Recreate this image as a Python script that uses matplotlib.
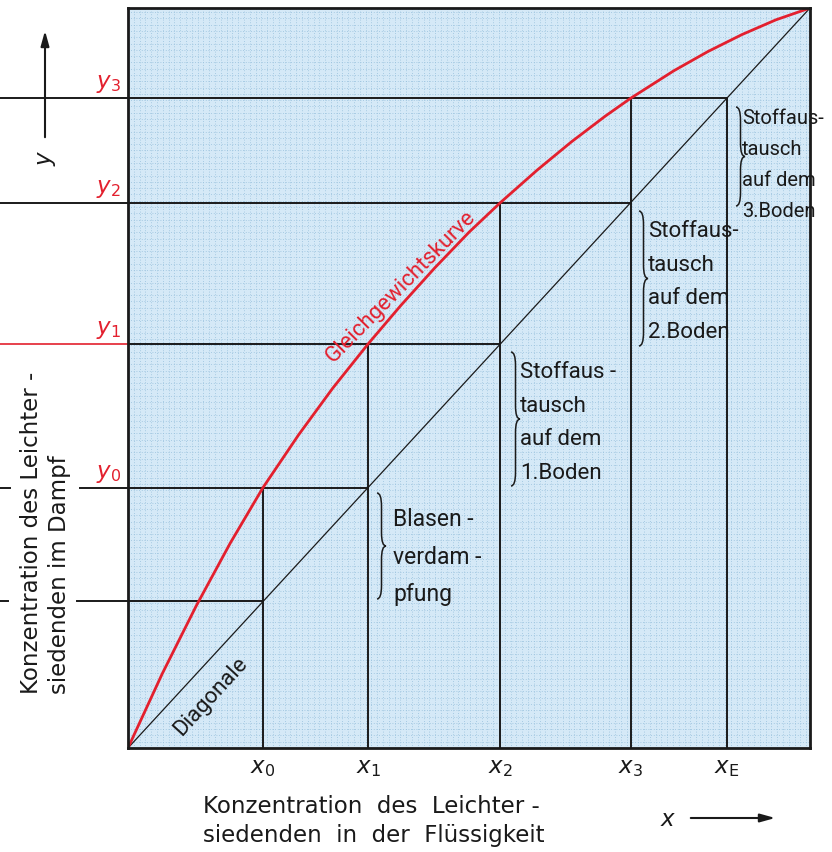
import numpy as np
import matplotlib
matplotlib.use("Agg")
import matplotlib.pyplot as plt
from matplotlib.path import Path
from matplotlib.patches import PathPatch

# ---------------- data ----------------
curve_x = [0.0, 0.05, 0.10, 0.15, 0.198, 0.25, 0.30, 0.352, 0.40, 0.45, 0.50, 0.546,
           0.60, 0.65, 0.70, 0.737, 0.80, 0.85, 0.90, 0.95, 1.0]
curve_y = [0.0, 0.100, 0.192, 0.277, 0.352, 0.423, 0.486, 0.546, 0.598, 0.649, 0.697, 0.737,
           0.781, 0.819, 0.854, 0.878, 0.915, 0.941, 0.964, 0.984, 1.0]

step_x = [0.198, 0.352, 0.546, 0.737, 0.878]          # x0, x1, x2, x3, xE
step_y = [0.352, 0.546, 0.737, 0.878]                 # y0, y1, y2, y3
x_labels = [r"$x_0$", r"$x_1$", r"$x_2$", r"$x_3$", r"$x_\mathrm{E}$"]
y_labels = [r"$y_0$", r"$y_1$", r"$y_2$", r"$y_3$"]

stage_texts = ["Blasen -\nverdam -\npfung",
               "Stoffaus -\ntausch\nauf dem\n1.Boden",
               "Stoffaus-\ntausch\nauf dem\n2.Boden",
               "Stoffaus-\ntausch\nauf dem\n3.Boden"]

xlabel_text = "Konzentration  des  Leichter -\nsiedenden  in  der  Flüssigkeit"
ylabel_text = "Konzentration des Leichter -\nsiedenden im Dampf"

# ---------------- layout ----------------
W, H = 832, 852
L, R, T, B = 128, 810, 8, 748


def X(px):
    return (px - L) / (R - L)


def Y(py):
    return (B - py) / (B - T)


RED = "#e3202e"
BLK = "#1a1a1a"
FONT = ["Roboto", "DejaVu Sans"]
TFONT = ["DejaVu Sans"]

fig = plt.figure(figsize=(W / 100, H / 100), dpi=100)
fig.patch.set_facecolor("white")
ax = fig.add_axes([L / W, 1 - B / H, (R - L) / W, (B - T) / H])
ax.set_xlim(0, 1)
ax.set_ylim(0, 1)
ax.set_facecolor("#d5e9f7")
for s in ax.spines.values():
    s.set_linewidth(2.0)
    s.set_color(BLK)
    s.set_zorder(6)
ax.set_xticks([])
ax.set_yticks([])

# dotted background grid
gsp = np.arange(0.0, 1.0001, 0.0085)
ax.vlines(gsp, 0, 1, colors="#97c0dc", linewidth=0.6, linestyles=(0, (1, 2.2)), zorder=0.5)
ax.hlines(gsp, 0, 1, colors="#97c0dc", linewidth=0.6, linestyles=(0, (1, 2.2)), zorder=0.5)

# diagonal
ax.plot([0, 1], [0, 1], color=BLK, lw=0.9, zorder=3)
# equilibrium curve
ax.plot(curve_x, curve_y, color=RED, lw=2.0, zorder=4, solid_capstyle="round", solid_joinstyle="round")

lw_step = 1.4
# vertical lines from bottom up to curve (or diagonal for xE)
for i, xv in enumerate(step_x):
    top = step_y[i] if i < len(step_y) else step_y[-1]
    ax.plot([xv, xv], [0, top], color=BLK, lw=lw_step, zorder=3)

# horizontal lines
ax.plot([X(0), step_x[4]], [step_y[3], step_y[3]], color=BLK, lw=lw_step, clip_on=False, zorder=3)
ax.plot([X(0), step_x[3]], [step_y[2], step_y[2]], color=BLK, lw=lw_step, clip_on=False, zorder=3)
ax.plot([X(0), 0], [step_y[1], step_y[1]], color=RED, lw=1.2, clip_on=False, zorder=3)
ax.plot([0, step_x[2]], [step_y[1], step_y[1]], color=BLK, lw=lw_step, zorder=3)
ax.plot([X(80), step_x[1]], [step_y[0], step_y[0]], color=BLK, lw=lw_step, clip_on=False, zorder=3)
ax.plot([X(0), X(10)], [step_y[0], step_y[0]], color=BLK, lw=lw_step, clip_on=False, zorder=3)
ax.plot([X(77), step_x[0]], [step_x[0], step_x[0]], color=BLK, lw=lw_step, clip_on=False, zorder=3)
ax.plot([X(0), X(8)], [step_x[0], step_x[0]], color=BLK, lw=lw_step, clip_on=False, zorder=3)

# tick-like labels
for xv, lab in zip(step_x, x_labels):
    ax.text(xv, Y(756), lab, ha="center", va="top", fontsize=16.5, color=BLK, clip_on=False)
for yv, lab in zip(step_y, y_labels):
    ax.text(X(121), yv + 0.004, lab, ha="right", va="bottom", fontsize=16.5, color=RED, clip_on=False)


# curly braces
def brace(x0, ytop, ybot, w):
    ym = 0.5 * (ytop + ybot)
    c = 0.018
    verts = [(x0, ytop),
             (x0 + w * 0.5, ytop), (x0 + w * 0.5, ytop - c),
             (x0 + w * 0.5, ym + c),
             (x0 + w * 0.5, ym), (x0 + w, ym),
             (x0 + w * 0.5, ym), (x0 + w * 0.5, ym - c),
             (x0 + w * 0.5, ybot + c),
             (x0 + w * 0.5, ybot), (x0, ybot)]
    codes = [Path.MOVETO,
             Path.CURVE3, Path.CURVE3,
             Path.LINETO,
             Path.CURVE3, Path.CURVE3,
             Path.CURVE3, Path.CURVE3,
             Path.LINETO,
             Path.CURVE3, Path.CURVE3]
    ax.add_patch(PathPatch(Path(verts, codes), fill=False, lw=1.1, color=BLK, zorder=5, clip_on=False))


brace_specs = [  # (brace left px, top py, bottom py, text x px, text center py, fontsize, linespacing)
    (377, 493, 599, 393, 557, 16.5, 1.78),
    (511, 352, 486, 520, 423, 16.0, 1.80),
    (639, 211, 346, 648, 282, 16.0, 1.79),
    (736, 107, 206, 742, 165, 14.5, 1.78),
]
for (bx, bt, bb, tx, tc, fs, lsp), txt in zip(brace_specs, stage_texts):
    brace(X(bx), Y(bt), Y(bb), X(bx + 9) - X(bx))
    ax.text(X(tx), Y(tc), txt, ha="left", va="center", fontsize=fs, linespacing=lsp,
            color=BLK, family=FONT, zorder=2, clip_on=False)

# curve / diagonal labels
ax.text(X(401), Y(287), "Gleichgewichtskurve", color=RED, fontsize=16, rotation=45.5,
        rotation_mode="anchor", ha="center", va="center", family=FONT, zorder=5)
ax.text(X(211), Y(697), "Diagonale", color=BLK, fontsize=16, rotation=47.5,
        rotation_mode="anchor", ha="center", va="center", family=FONT, zorder=5)

# axis arrows
ax.annotate("", xy=(X(45), Y(28)), xytext=(X(45), Y(140)), annotation_clip=False,
            arrowprops=dict(arrowstyle="-|>,head_length=0.9,head_width=0.25", color=BLK, lw=1.5))
ax.text(X(47), Y(158), r"$y$", rotation=90, ha="center", va="center", fontsize=16.5, color=BLK, clip_on=False)
ax.annotate("", xy=(X(778), Y(818)), xytext=(X(688), Y(818)), annotation_clip=False,
            arrowprops=dict(arrowstyle="-|>,head_length=0.9,head_width=0.25", color=BLK, lw=1.5))
ax.text(X(668), Y(820), r"$x$", ha="center", va="center", fontsize=16.5, color=BLK, clip_on=False)

# axis titles
fig.text(203 / W, 1 - 795 / H, xlabel_text, ha="left", va="top", fontsize=16.5,
         linespacing=1.33, color=BLK, family=TFONT)
fig.text(20 / W, 1 - 694 / H, ylabel_text, ha="left", va="bottom", rotation=90,
         fontsize=16.5, linespacing=1.28, color=BLK, family=TFONT, multialignment="left")

fig.savefig("out.png", dpi=100)
